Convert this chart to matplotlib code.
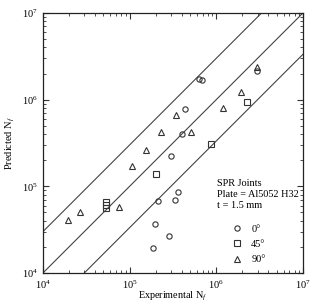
import matplotlib
matplotlib.use("Agg")
import matplotlib.pyplot as plt
import numpy as np
from matplotlib.ticker import LogLocator, FuncFormatter, NullFormatter
from matplotlib.lines import Line2D

plt.rcParams['font.family'] = ['Liberation Serif', 'DejaVu Serif']
plt.rcParams['mathtext.fontset'] = 'custom'
plt.rcParams['mathtext.rm'] = 'Liberation Serif'
plt.rcParams['mathtext.it'] = 'Liberation Serif:italic'

# 0 deg (circles)
exp_0 = [6.31e5, 6.84e5, 2.97e6, 4.35e5, 3.98e5, 3.04e5, 3.63e5, 2.15e5, 3.33e5, 1.99e5, 2.84e5, 1.85e5]
pred_0 = [1.73e6, 1.67e6, 2.16e6, 7.74e5, 4.02e5, 2.25e5, 8.67e4, 6.82e4, 6.95e4, 3.63e4, 2.67e4, 1.93e4]
# 45 deg (squares)
exp_45 = [5.33e4, 5.33e4, 5.33e4, 2.0e5, 8.67e5, 2.28e6]
pred_45 = [6.68e4, 6.09e4, 5.55e4, 1.39e5, 3.05e5, 9.33e5]
# 90 deg (triangles)
exp_90 = [1.93e4, 2.65e4, 7.47e4, 1.08e5, 1.53e5, 2.30e5, 3.40e5, 5.11e5, 1.19e6, 1.91e6, 2.97e6]
pred_90 = [4.09e4, 5.09e4, 5.78e4, 1.73e5, 2.63e5, 4.27e5, 6.62e5, 4.18e5, 7.94e5, 1.24e6, 2.36e6]

band_factors = [3.0, 1.0, 1.0 / 3.0]
series_labels = ['0°', '45°', '90°']
axis_limits = [1e4, 1e7]

fig = plt.figure(figsize=(3.11, 3.02), dpi=100)
ax = fig.add_axes([0.138, 0.096, 0.836, 0.861])
ax.set_xscale('log')
ax.set_yscale('log')
ax.set_xlim(axis_limits)
ax.set_ylim(axis_limits)

xs = np.array(axis_limits)
for f in band_factors:
    ax.plot(xs, xs * f, color='#444444', lw=0.8, zorder=1)

mk = dict(ls='none', mfc='none', mec='#333333', mew=0.8, ms=3.8, zorder=3)
ax.plot(exp_0, pred_0, marker='o', **mk)
ax.plot(exp_45, pred_45, marker='s', **mk)
ax.plot(exp_90, pred_90, marker='^', **mk)

fmt = FuncFormatter(lambda v, p: r'$\mathregular{10^{%d}}$' % int(round(np.log10(v))))
for axis in (ax.xaxis, ax.yaxis):
    axis.set_major_locator(LogLocator(base=10, numticks=10))
    axis.set_minor_locator(LogLocator(base=10, subs=np.arange(2, 10), numticks=10))
    axis.set_major_formatter(fmt)
    axis.set_minor_formatter(NullFormatter())
ax.tick_params(which='both', direction='in', top=True, right=True, labelsize=7.5, color='#333333')
ax.tick_params(which='major', length=4, width=0.8)
ax.tick_params(which='minor', length=2, width=0.6)
ax.tick_params(axis='x', pad=4)
for s in ax.spines.values():
    s.set_linewidth(0.9)
    s.set_color('#222222')

ax.set_xlabel(r'Experimental N$_f$', fontsize=7.3, labelpad=-0.5)
ax.set_ylabel(r'Predicted N$_f$', fontsize=7.5, labelpad=4)

# annotation text
ax.text(0.668, 0.36, 'SPR Joints\nPlate = Al5052 H32\nt = 1.5 mm', transform=ax.transAxes,
        fontsize=7.4, va='top', ha='left', linespacing=1.25)

# legend
handles = [Line2D([], [], marker=m, **mk) for m in ['o', 's', '^']]
leg = ax.legend(handles, series_labels, loc='lower right', bbox_to_anchor=(0.88, 0.01),
                frameon=False, fontsize=7.4, handlelength=0.8, handletextpad=1.0,
                labelspacing=0.6, borderaxespad=0.2)

fig.savefig('out.png', dpi=100)
